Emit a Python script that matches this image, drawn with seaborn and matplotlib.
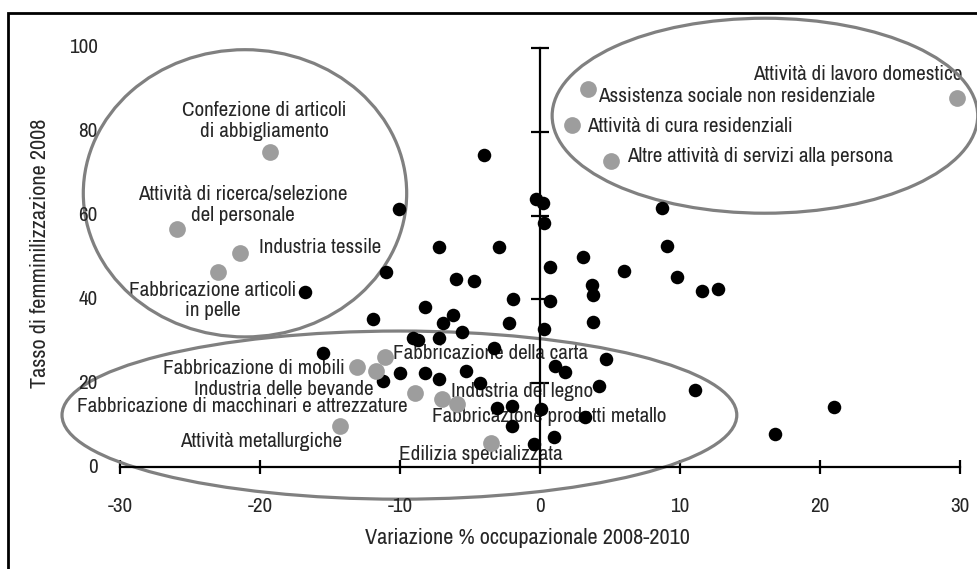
import matplotlib
matplotlib.use("Agg")
import matplotlib.pyplot as plt
from matplotlib.patches import Ellipse, Rectangle
from matplotlib import font_manager
import seaborn as sns
import pandas as pd

# --- data ---
# black dots: all other sectors
black_x = [-4.0, -10.1, -0.3, 0.2, 0.3, -7.2, -2.9, -11.0, -16.8, -6.0,
           -4.7, 0.7, 3.1, 3.7, 3.8, -1.9, 0.7, -8.2, -11.9, -6.2,
           -6.9, -2.2, 3.8, 0.3, -5.6, -9.1, -8.7, -7.2, -3.3, -15.5,
           1.1, 1.8, 4.7, -10.0, -8.2, -5.3, -11.2, -7.2, -4.3, 4.2,
           -3.1, -2.0, 0.1, 3.2, -2.0, 1.0, -0.4, 8.7, 9.1, 6.0,
           9.8, 11.6, 12.7, 11.1, 21.0, 16.8]
black_y = [74.5, 61.6, 63.9, 62.9, 58.2, 52.5, 52.5, 46.6, 41.8, 44.8,
           44.3, 47.7, 50.1, 43.4, 41.0, 40.0, 39.5, 38.3, 35.3, 36.2,
           34.4, 34.3, 34.7, 32.9, 32.3, 30.9, 30.3, 30.9, 28.5, 27.1,
           24.2, 22.8, 25.7, 22.4, 22.4, 22.9, 20.6, 20.9, 20.0, 19.4,
           14.2, 14.6, 13.8, 11.9, 9.9, 7.2, 5.6, 61.9, 52.8, 46.7,
           45.3, 41.9, 42.4, 18.5, 14.3, 8.0]

# grey dots: highlighted sectors
grey_x = [-19.3, -25.9, -21.4, -23.0, 3.4, 29.8, 2.3, 5.1,
          -11.1, -13.1, -11.7, -8.9, -7.0, -5.9, -14.3, -3.5]
grey_y = [75.2, 56.7, 51.0, 46.6, 90.1, 88.1, 81.5, 73.0,
          26.2, 23.8, 22.9, 17.6, 16.2, 15.0, 9.9, 5.8]

x_ticks = [-30, -20, -10, 0, 10, 20, 30]
y_ticks = [0, 20, 40, 60, 80, 100]

# label text, anchor (x, y), horizontal alignment
labels = [
    ("Confezione di articoli\ndi abbigliamento", -19.7, 82.5, "center"),
    ("Attività di ricerca/selezione\ndel personale", -21.2, 62.5, "center"),
    ("Industria tessile", -20.05, 52.4, "left"),
    ("Fabbricazione articoli\nin pelle", -23.4, 39.7, "center"),
    ("Attività di lavoro domestico", 30.2, 93.6, "right"),
    ("Assistenza sociale non residenziale", 4.17, 88.5, "left"),
    ("Attività di cura residenziali", 3.38, 81.2, "left"),
    ("Altre attività di servizi alla persona", 6.19, 74.1, "left"),
    ("Fabbricazione della carta", -10.48, 27.1, "left"),
    ("Fabbricazione di mobili", -13.93, 23.6, "right"),
    ("Industria delle bevande", -11.86, 18.6, "right"),
    ("Fabbricazione di macchinari e attrezzature", -9.48, 14.4, "right"),
    ("Attività metallurgiche", -14.12, 6.0, "right"),
    ("Industria del legno", -6.38, 18.0, "left"),
    ("Fabbricazione prodotti metallo", -7.69, 12.0, "left"),
    ("Edilizia specializzata", -10.05, 3.0, "left"),
]

# ellipses around groups: centre x, centre y, width, height
groups = [(-21.07, 65.3, 23.1, 68.5),
          (16.07, 83.8, 30.4, 46.5),
          (-10.04, 12.4, 48.2, 40.1)]

sns.set_style("white")

# the original uses a narrow sans; use one if installed, else shrink Liberation Sans
narrow = None
for f in font_manager.fontManager.ttflist:
    if "Narrow" in f.name or "Condensed" in f.name:
        narrow = f.name
        break
if narrow:
    plt.rcParams["font.family"] = [narrow, "DejaVu Sans"]
    fs_lab, fs_tick, fs_axis = 15.2, 15.2, 16.0
else:
    plt.rcParams["font.family"] = ["Liberation Sans", "DejaVu Sans"]
    fs_lab, fs_tick, fs_axis = 12.6, 12.6, 13.2

fig = plt.figure(figsize=(9.78, 5.69), dpi=100)
ax = fig.add_axes([0, 0, 1, 1])
ax.set_xlim(-38.57, 31.29)
ax.set_ylim(-24.3, 111.4)
ax.patch.set_visible(False)

df_black = pd.DataFrame({"x": black_x, "y": black_y})
df_grey = pd.DataFrame({"x": grey_x, "y": grey_y})
sns.scatterplot(data=df_black, x="x", y="y", color="black", s=95,
                linewidth=0, ax=ax, zorder=4, clip_on=False)
sns.scatterplot(data=df_grey, x="x", y="y", color="#9d9d9d", s=145,
                linewidth=0, ax=ax, zorder=4, clip_on=False)

for cx, cy, w, h in groups:
    ax.add_patch(Ellipse((cx, cy), w, h, fill=False, edgecolor="#808080",
                         linewidth=2.3, zorder=2.4, clip_on=False))

for txt, lx, ly, ha in labels:
    ax.text(lx, ly, txt, ha=ha, va="center", fontsize=fs_lab,
            linespacing=1.1, zorder=2)

# axes crossing at the origin
for side in ["top", "right"]:
    ax.spines[side].set_visible(False)
ax.spines["left"].set_position(("data", 0))
ax.spines["left"].set_bounds(0, 100)
ax.spines["bottom"].set_position(("data", 0))
ax.spines["bottom"].set_bounds(-30, 30)
for side in ["left", "bottom"]:
    ax.spines[side].set_linewidth(1.6)
    ax.spines[side].set_color("black")
    ax.spines[side].set_zorder(3)
ax.set_xticks(x_ticks)
ax.set_yticks(y_ticks[1:])
ax.tick_params(axis="x", bottom=True, direction="inout", length=10,
               width=1.6, color="black", labelbottom=False)
ax.tick_params(axis="y", left=True, direction="inout", length=13,
               width=1.6, color="black", labelleft=False)
ax.set_xlabel("")
ax.set_ylabel("")

for v in x_ticks:
    ax.text(v, -9.5, str(v), ha="center", va="center", fontsize=fs_tick)
for v in y_ticks:
    ax.text(-31.6, v, str(v), ha="right", va="center", fontsize=fs_tick)

ax.text(-0.86, -16.9, "Variazione % occupazionale 2008-2010",
        ha="center", va="center", fontsize=fs_axis)
ax.text(-35.7, 51.1, "Tasso di femminilizzazione 2008", rotation=90,
        ha="center", va="center", fontsize=fs_axis)

# frame visible on the left and top edges
fig.add_artist(Rectangle((8 / 978, -0.5), 1.5, 1.5 - 13 / 569,
                         transform=fig.transFigure, fill=False,
                         edgecolor="black", linewidth=2))

fig.savefig("out.png", dpi=100)
